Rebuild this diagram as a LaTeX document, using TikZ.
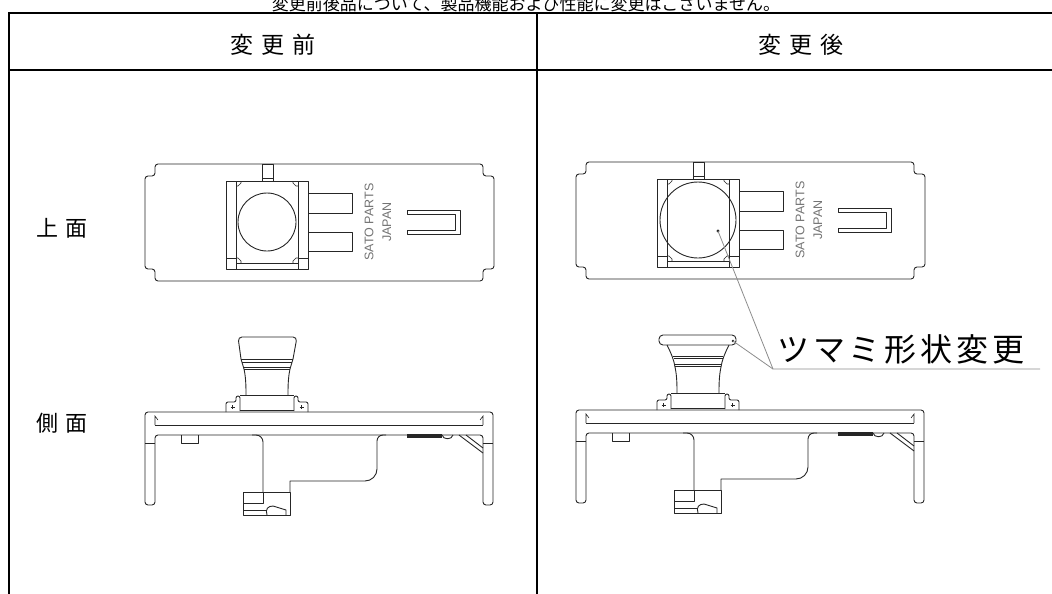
\documentclass[tikz,border=0pt]{standalone}
\usepackage{fontspec}
\setmainfont{Liberation Sans}
\newfontfamily\jp{Noto Sans CJK JP}
\newfontfamily\jpwide[LetterSpace=35]{Noto Sans CJK JP}
\newfontfamily\jpmid[LetterSpace=12]{Noto Sans CJK JP}
\usepackage{tikz}
\tikzset{%
  part/.style={draw=black!85, line width=0.9pt, line join=round},
  thinpart/.style={draw=black!85, line width=0.6pt},
  rule/.style={draw=black, line width=1.6pt},
  leader/.style={draw=black!45, line width=0.8pt},
  marking/.style={text=black!55, font=\fontsize{12.5}{13}\selectfont, inner sep=0pt, rotate=90},
  head/.style={font=\jpwide\fontsize{23}{26}\selectfont, inner sep=0pt},
  rowlabel/.style={font=\jpwide\fontsize{22}{24}\selectfont, inner sep=0pt}
}
\newcommand{\topview}[1]{%
  \draw [part, rounded corners=3] (155,164) -- (483,164) -- (483,176) -- (494,176) -- (494,269)
    -- (483,269) -- (483,281) -- (155,281) -- (155,269) -- (145,269) -- (145,176) -- (155,176) -- cycle;
  \draw [part] (262,181) rectangle (273,164) (262,178) -- (273,178);
  \draw [part] (226,181) rectangle (308,269);
  \draw [part] (236,181) -- (236,269) (298,181) -- (298,269) (236,263) -- (298,263);
  \draw [part] (226,258) -- (236,258) (298,258) -- (308,258);
  \foreach \cx/\cy/\dx/\dy in {236/181/1/1, 298/181/-1/1, 236/263/1/-1, 298/263/-1/-1}
    \draw [thinpart] (\cx,\cy+5*\dy) -- (\cx+2*\dx,\cy+5*\dy) -- (\cx+5*\dx,\cy+2*\dy) -- (\cx+5*\dx,\cy);
  \draw [part] (308,193) -- (352,193) -- (352,213) -- (308,213)
               (308,232) -- (352,232) -- (352,251) -- (308,251);
  \draw [part] (407,210) -- (460,210) -- (460,234) -- (407,234) -- (407,230) -- (455,230) -- (455,214) -- (407,214) -- cycle;
  \node [marking] (sato#1) at (369,222) {SATO PARTS};
  \node [marking] (japan#1) at (387,222) {JAPAN};
}
\newcommand{\sideview}{%
  \draw [part, rounded corners=3] (145,505) -- (145,412) -- (493,412) -- (493,505) -- (483,505)
    -- (483,435) -- (155,435) -- (155,505) -- cycle;
  \draw [part] (155,425) -- (483,425) (145,443) -- (155,443) (483,443) -- (493,443);
  \draw [thinpart] (155,425) -- (155,416) -- (158,420) (483,425) -- (483,416) -- (480,420);
  \draw [part] (181,435) -- (181,443) -- (198,443) -- (198,435);
  \draw [part, rounded corners=7] (252,435) -- (263,435) -- (263,492);
  \draw [part] (290,492) -- (290,481) [rounded corners=12] -- (377,481) [rounded corners=6] -- (377,435) -- (386,435);
  \draw [part] (243,492) rectangle (290,515);
  \draw [part] (263,492) -- (263,503) -- (243,503) (243,510) -- (267,510);
  \draw [part] (267,515) .. controls (265,509) and (268,506) .. (273,506) -- (286,510) -- (286,515);
  \fill [black!85] (407,434) rectangle (442,437.5);
  \draw [part] (442,435) .. controls (443,440) and (452,440) .. (453,435);
  \draw [part] (459,435) -- (483,453) (466,435) -- (483,448);
  \draw [part, rounded corners=2] (226,412) -- (226,402) -- (236,402) -- (236,396) -- (240,396) -- (240,411);
  \draw [part, rounded corners=2] (308,412) -- (308,402) -- (298,402) -- (298,396) -- (294,396) -- (294,411);
  \draw [part] (240,395) -- (294,395);
  \draw [black!85, line width=1.8pt] (240,410.5) -- (294,410.5);
  \draw [thinpart] (230.5,407) -- (234.5,407) (232.5,405) -- (232.5,409)
                   (299.5,407) -- (303.5,407) (301.5,405) -- (301.5,409);
  \draw [part] (244,369) .. controls (246,378) and (246,388) .. (246,395)
               (290,369) .. controls (288,378) and (288,388) .. (288,395);
}

\begin{document}
\begin{tikzpicture}[x=1pt, y=-1pt]
  \useasboundingbox (0,0) rectangle (1052,594);
  \clip (0,0) rectangle (1052,594);

  \node [anchor=base, inner sep=0pt, font=\jp\fontsize{17}{18}\selectfont] (note) at (526,10.5)
    {変更前後品について、製品機能および性能に変更はございません。};

  % table
  \draw [rule] (9,600) -- (9,13) -- (1070,13);
  \draw [rule] (9,70) -- (1070,70);
  \draw [rule] (537,13) -- (537,600);
  \node [head] (before) at (273,45) {変更前};
  \node [head] (after) at (801,45) {変更後};
  \node [rowlabel] (upper) at (62,228) {上面};
  \node [rowlabel] (side) at (62,423) {側面};

  % before
  \topview{A}
  \draw [part] (267,222) circle (29pt);
  \sideview
  \draw [part, rounded corners=4] (241,359) -- (238,337) -- (297,337) -- (293,359);
  \draw [part] (241,359) -- (293,359) (242,362) -- (292,362) (243,367) -- (291,367) (244,369) -- (290,369);
  \draw [part] (241,359) -- (244,369) (293,359) -- (290,369);

  % after
  \begin{scope}[shift={(431,-2)}]
    \topview{B}
    \draw [part] (267,222) circle (38pt);
    \coordinate (dot) at (287,233);
    \fill [black!85] (dot) circle (1.7pt);
    \sideview
    \draw [part, rounded corners=4] (228,337) rectangle (305,347);
    \coordinate (lip) at (302,343);
    \fill [black!85] (lip) circle (1.3pt);
    \draw [part] (236,347) .. controls (240,355) and (243,362) .. (244,369)
                 (298,347) .. controls (294,355) and (291,362) .. (290,369);
    \draw [part] (242,358) -- (292,358) (242.5,360) -- (291.5,360) (243.5,366) -- (290.5,366) (244,368.5) -- (290,368.5);
  \end{scope}

  \coordinate (bend) at (773,369);
  \coordinate (tail) at (1040,369);
  \draw [leader] (dot) -- (bend) -- (tail);
  \draw [leader] (lip) -- (bend);
  \node [anchor=base west, inner sep=0pt, font=\jpmid\fontsize{32}{34}\selectfont] (change) at (777,361) {ツマミ形状変更};
\end{tikzpicture}
\end{document}
